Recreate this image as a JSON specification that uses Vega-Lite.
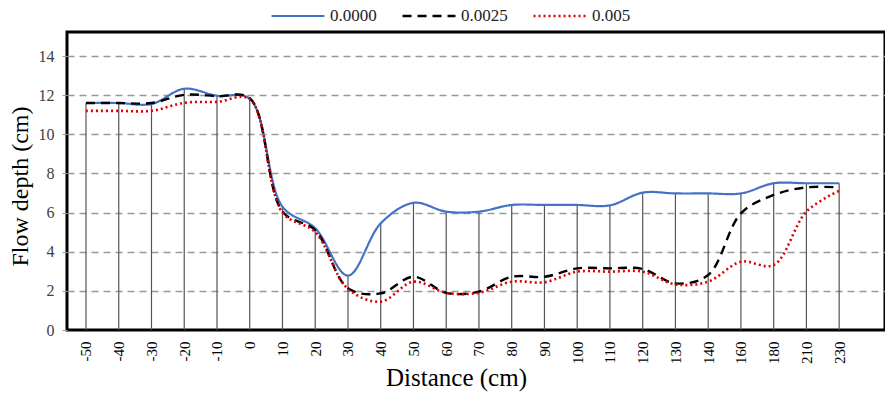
{
  "$schema": "https://vega.github.io/schema/vega-lite/v6.json",
  "width": 818,
  "height": 298,
  "autosize": "none",
  "padding": {"left": 67, "top": 32, "right": 0, "bottom": 64},
  "config": {
    "view": {"stroke": "black", "strokeWidth": 3},
    "font": "Liberation Serif"
  },
  "data": {
    "values": [
      {"x": "-50", "s": "0.0000", "v": 11.6}, {"x": "-40", "s": "0.0000", "v": 11.6}, {"x": "-30", "s": "0.0000", "v": 11.55},
      {"x": "-20", "s": "0.0000", "v": 12.33}, {"x": "-10", "s": "0.0000", "v": 11.97}, {"x": "0", "s": "0.0000", "v": 11.82},
      {"x": "10", "s": "0.0000", "v": 6.3}, {"x": "20", "s": "0.0000", "v": 5.2}, {"x": "30", "s": "0.0000", "v": 2.78},
      {"x": "40", "s": "0.0000", "v": 5.45}, {"x": "50", "s": "0.0000", "v": 6.5}, {"x": "60", "s": "0.0000", "v": 6.05},
      {"x": "70", "s": "0.0000", "v": 6.05}, {"x": "80", "s": "0.0000", "v": 6.39}, {"x": "90", "s": "0.0000", "v": 6.39},
      {"x": "100", "s": "0.0000", "v": 6.39}, {"x": "110", "s": "0.0000", "v": 6.37}, {"x": "120", "s": "0.0000", "v": 7.02},
      {"x": "130", "s": "0.0000", "v": 6.98}, {"x": "140", "s": "0.0000", "v": 6.98}, {"x": "160", "s": "0.0000", "v": 6.98},
      {"x": "180", "s": "0.0000", "v": 7.5}, {"x": "210", "s": "0.0000", "v": 7.5}, {"x": "230", "s": "0.0000", "v": 7.5},

      {"x": "-50", "s": "0.0025", "v": 11.6}, {"x": "-40", "s": "0.0025", "v": 11.6}, {"x": "-30", "s": "0.0025", "v": 11.6},
      {"x": "-20", "s": "0.0025", "v": 12.02}, {"x": "-10", "s": "0.0025", "v": 11.95}, {"x": "0", "s": "0.0025", "v": 11.85},
      {"x": "10", "s": "0.0025", "v": 6.05}, {"x": "20", "s": "0.0025", "v": 5.1}, {"x": "30", "s": "0.0025", "v": 2.13},
      {"x": "40", "s": "0.0025", "v": 1.87}, {"x": "50", "s": "0.0025", "v": 2.72}, {"x": "60", "s": "0.0025", "v": 1.9},
      {"x": "70", "s": "0.0025", "v": 1.96}, {"x": "80", "s": "0.0025", "v": 2.72}, {"x": "90", "s": "0.0025", "v": 2.72},
      {"x": "100", "s": "0.0025", "v": 3.15}, {"x": "110", "s": "0.0025", "v": 3.15}, {"x": "120", "s": "0.0025", "v": 3.12},
      {"x": "130", "s": "0.0025", "v": 2.38}, {"x": "140", "s": "0.0025", "v": 2.81}, {"x": "160", "s": "0.0025", "v": 5.96},
      {"x": "180", "s": "0.0025", "v": 6.9}, {"x": "210", "s": "0.0025", "v": 7.29}, {"x": "230", "s": "0.0025", "v": 7.29},

      {"x": "-50", "s": "0.005", "v": 11.2}, {"x": "-40", "s": "0.005", "v": 11.2}, {"x": "-30", "s": "0.005", "v": 11.2},
      {"x": "-20", "s": "0.005", "v": 11.61}, {"x": "-10", "s": "0.005", "v": 11.66}, {"x": "0", "s": "0.005", "v": 11.8},
      {"x": "10", "s": "0.005", "v": 6.0}, {"x": "20", "s": "0.005", "v": 5.0}, {"x": "30", "s": "0.005", "v": 2.1},
      {"x": "40", "s": "0.005", "v": 1.45}, {"x": "50", "s": "0.005", "v": 2.47}, {"x": "60", "s": "0.005", "v": 1.9},
      {"x": "70", "s": "0.005", "v": 1.9}, {"x": "80", "s": "0.005", "v": 2.47}, {"x": "90", "s": "0.005", "v": 2.44},
      {"x": "100", "s": "0.005", "v": 2.98}, {"x": "110", "s": "0.005", "v": 2.98}, {"x": "120", "s": "0.005", "v": 2.98},
      {"x": "130", "s": "0.005", "v": 2.33}, {"x": "140", "s": "0.005", "v": 2.47}, {"x": "160", "s": "0.005", "v": 3.49},
      {"x": "180", "s": "0.005", "v": 3.32}, {"x": "210", "s": "0.005", "v": 6.05}, {"x": "230", "s": "0.005", "v": 7.12}
    ]
  },
  "encoding": {
    "x": {
      "field": "x", "type": "ordinal",
      "scale": {"type": "point", "padding": 0.99, "align": 0.293,
        "domain": ["-50","-40","-30","-20","-10","0","10","20","30","40","50","60","70","80","90","100","110","120","130","140","160","180","210","230"]},
      "axis": {
        "title": "Distance (cm)", "titleFont": "Liberation Serif", "titleFontSize": 25, "titleFontWeight": "normal", "titleColor": "black",
        "titleX": 389,
        "labelAngle": -90, "labelFontSize": 15, "labelFont": "Liberation Serif", "labelColor": "black",
        "ticks": false, "domain": false, "grid": false, "labelPadding": 11, "titlePadding": 2
      }
    },
    "y": {
      "field": "v", "type": "quantitative",
      "scale": {"domain": [0, 15.23], "nice": false},
      "axis": {
        "title": "Flow depth (cm)", "titleFont": "Liberation Serif", "titleFontSize": 24, "titleFontWeight": "normal", "titleColor": "black",
        "titleY": 154,
        "values": [0, 2, 4, 6, 8, 10, 12, 14],
        "labelFontSize": 16, "labelFont": "Liberation Serif", "labelColor": "#404040",
        "domain": false, "tickColor": "#999999", "tickSize": 5, "labelPadding": 8, "titlePadding": 6,
        "grid": true, "gridColor": "#999999", "gridDash": [7, 5], "gridWidth": 1.5,
        "gridOpacity": {"condition": {"test": "datum.value === 0", "value": 0}, "value": 1}
      }
    }
  },
  "layer": [
    {
      "transform": [{"filter": "datum.s === '0.0000'"}],
      "mark": {"type": "rule", "color": "#555555", "strokeWidth": 1.2},
      "encoding": {"y2": {"datum": 0}}
    },
    {
      "mark": {"type": "line", "interpolate": "catmull-rom"},
      "encoding": {
        "color": {
          "field": "s", "type": "nominal",
          "scale": {"domain": ["0.0000", "0.0025", "0.005"], "range": ["#4472C4", "#000000", "#E00000"]},
          "legend": {
            "title": null, "orient": "none", "direction": "horizontal", "legendX": 203, "legendY": -44,
            "symbolType": "stroke", "symbolSize": 2800, "symbolStrokeWidth": 2.5,
            "labelFont": "Liberation Serif", "labelFontSize": 17, "labelColor": "#222222",
            "columnPadding": 20, "labelOffset": 4
          }
        },
        "strokeDash": {
          "field": "s", "type": "nominal",
          "scale": {"domain": ["0.0000", "0.0025", "0.005"], "range": [[1, 0], [9, 6], [2, 3]]}
        },
        "strokeWidth": {
          "field": "s", "type": "nominal",
          "scale": {"domain": ["0.0000", "0.0025", "0.005"], "range": [2.2, 2.6, 2.2]},
          "legend": null
        }
      }
    }
  ]
}
